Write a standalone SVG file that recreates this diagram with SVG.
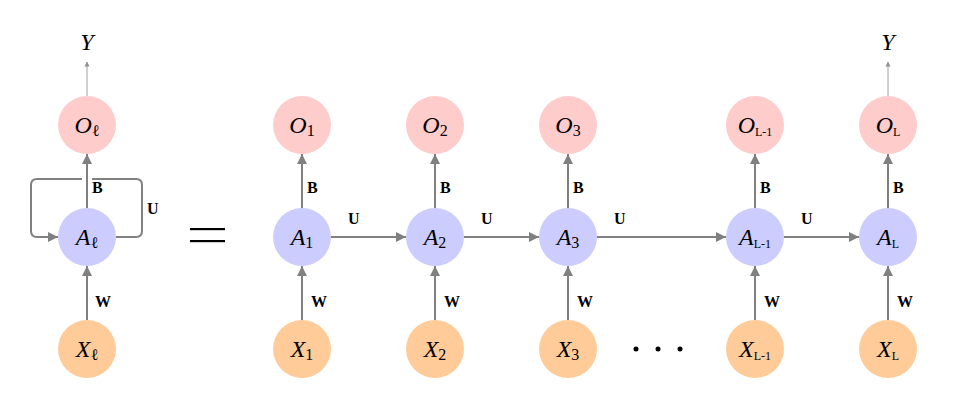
<svg xmlns="http://www.w3.org/2000/svg" width="966" height="400" viewBox="0 0 966 400">
<defs>
<marker id="ahs" viewBox="0 0 10 10" refX="9" refY="5" markerWidth="5" markerHeight="8" orient="auto" markerUnits="userSpaceOnUse">
<path d="M0,0 L10,5 L0,10 z" fill="#909090"/>
</marker>
<marker id="arr" viewBox="0 0 10 10" refX="10" refY="5" markerWidth="10" markerHeight="10" orient="auto" markerUnits="userSpaceOnUse">
<path d="M0,0 L10,5 L0,10 z" fill="#808080"/>
</marker>
</defs>
<style>
.o{fill:#ffcccc}
.a{fill:#ccccff}
.x{fill:#ffcc99}
.m{font-family:"Liberation Serif","DejaVu Serif",serif;font-style:italic;font-size:24px;fill:#000}
.s{font-family:"Liberation Serif","DejaVu Serif",serif;font-style:normal;font-size:16px}
.ss{font-family:"Liberation Serif","DejaVu Serif",serif;font-style:normal;font-size:12px}
.l{font-family:"Liberation Serif","DejaVu Serif",serif;font-weight:bold;font-size:16px;fill:#000}
.c{fill:none;stroke:#808080;stroke-width:2}
.t{fill:none;stroke:#a0a0a0;stroke-width:1}
</style>
<rect width="966" height="400" fill="#fff"/>
<g id="connectors">
<line class="t" x1="87" y1="96" x2="87" y2="62" marker-end="url(#ahs)"/>
<line class="t" x1="888" y1="96" x2="888" y2="62" marker-end="url(#ahs)"/>
<line class="c" x1="87" y1="208" x2="87" y2="154" marker-end="url(#arr)"/>
<line class="c" x1="87" y1="320" x2="87" y2="266" marker-end="url(#arr)"/>
<path class="c" d="M116,237 H136 Q142,237 142,231 V185 Q142,179 136,179 H92"/>
<path class="c" d="M82,179 H37 Q31,179 31,185 V231 Q31,237 37,237 H58" marker-end="url(#arr)"/>
<line class="c" x1="302" y1="208" x2="302" y2="154" marker-end="url(#arr)"/>
<line class="c" x1="435" y1="208" x2="435" y2="154" marker-end="url(#arr)"/>
<line class="c" x1="568" y1="208" x2="568" y2="154" marker-end="url(#arr)"/>
<line class="c" x1="755" y1="208" x2="755" y2="154" marker-end="url(#arr)"/>
<line class="c" x1="888" y1="208" x2="888" y2="154" marker-end="url(#arr)"/>
<line class="c" x1="302" y1="320" x2="302" y2="266" marker-end="url(#arr)"/>
<line class="c" x1="435" y1="320" x2="435" y2="266" marker-end="url(#arr)"/>
<line class="c" x1="568" y1="320" x2="568" y2="266" marker-end="url(#arr)"/>
<line class="c" x1="755" y1="320" x2="755" y2="266" marker-end="url(#arr)"/>
<line class="c" x1="888" y1="320" x2="888" y2="266" marker-end="url(#arr)"/>
<line class="c" x1="331" y1="237" x2="406" y2="237" marker-end="url(#arr)"/>
<line class="c" x1="464" y1="237" x2="539" y2="237" marker-end="url(#arr)"/>
<line class="c" x1="597" y1="237" x2="726" y2="237" marker-end="url(#arr)"/>
<line class="c" x1="784" y1="237" x2="859" y2="237" marker-end="url(#arr)"/>
<text class="l" x="92" y="193">B</text>
<text class="l" x="147" y="214">U</text>
<text class="l" x="95" y="307">W</text>
<text class="l" x="307" y="193">B</text>
<text class="l" x="440" y="193">B</text>
<text class="l" x="573" y="193">B</text>
<text class="l" x="760" y="193">B</text>
<text class="l" x="893" y="193">B</text>
<text class="l" x="311" y="307">W</text>
<text class="l" x="444" y="307">W</text>
<text class="l" x="577" y="307">W</text>
<text class="l" x="764" y="307">W</text>
<text class="l" x="897" y="307">W</text>
<text class="l" x="348" y="224">U</text>
<text class="l" x="481" y="224">U</text>
<text class="l" x="614" y="224">U</text>
<text class="l" x="801" y="224">U</text>
</g>
<g id="Y1"><text class="m" x="87" y="50" text-anchor="middle">Y</text></g>
<g id="YL"><text class="m" x="888" y="50" text-anchor="middle">Y</text></g>
<g id="eq"><rect x="190" y="228" width="35" height="2.2" fill="#000"/><rect x="190" y="240" width="35" height="2.2" fill="#000"/></g>
<g id="dots"><circle cx="636" cy="349" r="2.5" fill="#000"/><circle cx="658" cy="349" r="2.5" fill="#000"/><circle cx="680" cy="349" r="2.5" fill="#000"/></g>
<g id="Ol"><circle class="o" cx="87" cy="125" r="29"/><text class="m" x="87" y="133" text-anchor="middle">O<tspan class="s" dy="3">ℓ</tspan></text></g>
<g id="Al"><circle class="a" cx="87" cy="237" r="29"/><text class="m" x="87" y="245" text-anchor="middle">A<tspan class="s" dy="3">ℓ</tspan></text></g>
<g id="Xl"><circle class="x" cx="87" cy="349" r="29"/><text class="m" x="87" y="357" text-anchor="middle">X<tspan class="s" dy="3">ℓ</tspan></text></g>
<g id="O1"><circle class="o" cx="302" cy="125" r="29"/><text class="m" x="302" y="133" text-anchor="middle">O<tspan class="s" dy="3">1</tspan></text></g>
<g id="A1"><circle class="a" cx="302" cy="237" r="29"/><text class="m" x="302" y="245" text-anchor="middle">A<tspan class="s" dy="3">1</tspan></text></g>
<g id="X1"><circle class="x" cx="302" cy="349" r="29"/><text class="m" x="302" y="357" text-anchor="middle">X<tspan class="s" dy="3">1</tspan></text></g>
<g id="O2"><circle class="o" cx="435" cy="125" r="29"/><text class="m" x="435" y="133" text-anchor="middle">O<tspan class="s" dy="3">2</tspan></text></g>
<g id="A2"><circle class="a" cx="435" cy="237" r="29"/><text class="m" x="435" y="245" text-anchor="middle">A<tspan class="s" dy="3">2</tspan></text></g>
<g id="X2"><circle class="x" cx="435" cy="349" r="29"/><text class="m" x="435" y="357" text-anchor="middle">X<tspan class="s" dy="3">2</tspan></text></g>
<g id="O3"><circle class="o" cx="568" cy="125" r="29"/><text class="m" x="568" y="133" text-anchor="middle">O<tspan class="s" dy="3">3</tspan></text></g>
<g id="A3"><circle class="a" cx="568" cy="237" r="29"/><text class="m" x="568" y="245" text-anchor="middle">A<tspan class="s" dy="3">3</tspan></text></g>
<g id="X3"><circle class="x" cx="568" cy="349" r="29"/><text class="m" x="568" y="357" text-anchor="middle">X<tspan class="s" dy="3">3</tspan></text></g>
<g id="OL1"><circle class="o" cx="755" cy="125" r="29"/><text class="m" x="755" y="133" text-anchor="middle">O<tspan class="ss" dy="3">L-1</tspan></text></g>
<g id="AL1"><circle class="a" cx="755" cy="237" r="29"/><text class="m" x="755" y="245" text-anchor="middle">A<tspan class="ss" dy="3">L-1</tspan></text></g>
<g id="XL1"><circle class="x" cx="755" cy="349" r="29"/><text class="m" x="755" y="357" text-anchor="middle">X<tspan class="ss" dy="3">L-1</tspan></text></g>
<g id="OL"><circle class="o" cx="888" cy="125" r="29"/><text class="m" x="888" y="133" text-anchor="middle">O<tspan class="ss" dy="3">L</tspan></text></g>
<g id="AL"><circle class="a" cx="888" cy="237" r="29"/><text class="m" x="888" y="245" text-anchor="middle">A<tspan class="ss" dy="3">L</tspan></text></g>
<g id="XL"><circle class="x" cx="888" cy="349" r="29"/><text class="m" x="888" y="357" text-anchor="middle">X<tspan class="ss" dy="3">L</tspan></text></g>
</svg>
